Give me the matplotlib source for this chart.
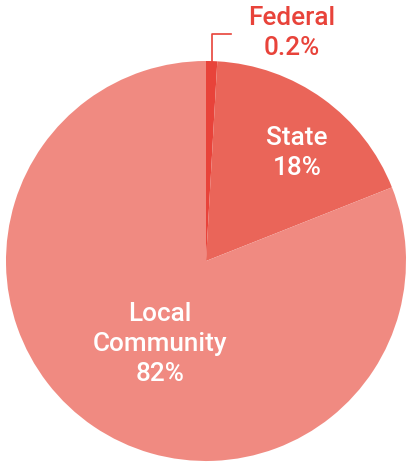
import matplotlib.pyplot as plt

# data
labels = ["Federal", "State", "Local\nCommunity"]
pct_labels = ["0.2%", "18%", "82%"]
# drawn shares as they appear (federal slice is shown wider than 0.2%)
drawn = [0.9, 18.1, 81.0]
colors = ["#E8433A", "#EA6559", "#F08A81"]

W, H = 409, 464
fig = plt.figure(figsize=(W / 100, H / 100), dpi=100)
ax = fig.add_axes([0, 0, 1, 1])

cx, cy, r = 206, H - 262, 200
wedges, _ = ax.pie(drawn, colors=colors, startangle=90, counterclock=False,
                   center=(cx, cy), radius=r, frame=True)
ax.set_xlim(0, W)
ax.set_ylim(0, H)
ax.set_aspect("equal")
ax.axis("off")

font = dict(family=["Roboto", "DejaVu Sans"], fontweight="medium", fontsize=18.8,
            ha="center", va="center", linespacing=1.3)

# leader line for federal
ax.plot([212, 212, 231], [H - 62, H - 35, H - 35], color=colors[0], lw=1.2)
ax.text(292, H - 33, labels[0] + "\n" + pct_labels[0], color=colors[0], **font)
ax.text(297, H - 153, labels[1] + "\n" + pct_labels[1], color="white", **font)
ax.text(160, H - 344, labels[2] + "\n" + pct_labels[2], color="white", **font)

fig.savefig("out.png", dpi=100)
